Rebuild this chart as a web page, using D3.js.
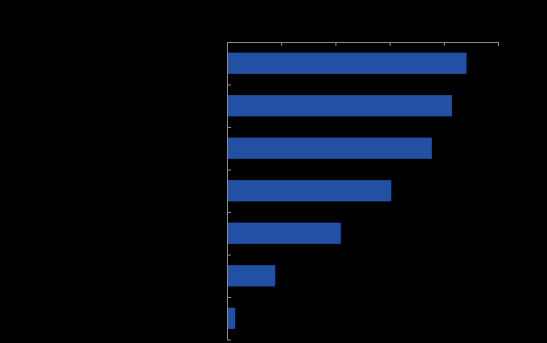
<!DOCTYPE html>
<html>
<head>
<meta charset="utf-8">
<script src="https://cdn.jsdelivr.net/npm/d3@7"></script>
<style>
html,body{margin:0;padding:0;background:#000;}
svg{display:block;}
</style>
</head>
<body>
<script>
const categories = ["A","B","C","D","E","F","G"];
const values = [44.1, 41.4, 37.7, 30.2, 20.9, 8.8, 1.4];
const xTicks = [0, 10, 20, 30, 40, 50];

const W = 547, H = 343;
const margin = {left: 227, top: 42};
const plotW = 271, plotH = 297.5;

const svg = d3.select("body").append("svg")
  .attr("width", W).attr("height", H)
  .style("background", "#000");

const x = d3.scaleLinear().domain([0, 50]).range([0, plotW]);
const y = d3.scaleBand().domain(categories).range([0, plotH]).paddingInner(0.5).paddingOuter(0.25);
const yEdge = d3.scaleLinear().domain([0, categories.length]).range([0, plotH]);

const g = svg.append("g").attr("transform", `translate(${margin.left},${margin.top})`);

g.selectAll("rect.bar").data(values).enter().append("rect")
  .attr("class", "bar")
  .attr("x", x(0) + 1)
  .attr("y", (d, i) => y(categories[i]))
  .attr("width", d => x(d) - x(0) - 0.5)
  .attr("height", y.bandwidth())
  .attr("fill", "#2251A4");

const axisColor = "#8c8c8c";

const xAxis = g.append("g")
  .call(d3.axisBottom(x).tickValues(xTicks).tickSize(4).tickSizeOuter(0).tickFormat(""));
const yAxis = g.append("g")
  .call(d3.axisRight(yEdge).tickValues(d3.range(1, categories.length + 1)).tickSize(4).tickSizeOuter(0).tickFormat(""));

[xAxis, yAxis].forEach(a => {
  a.selectAll("path, line").attr("stroke", axisColor).attr("stroke-width", 1);
});
</script>
</body>
</html>
